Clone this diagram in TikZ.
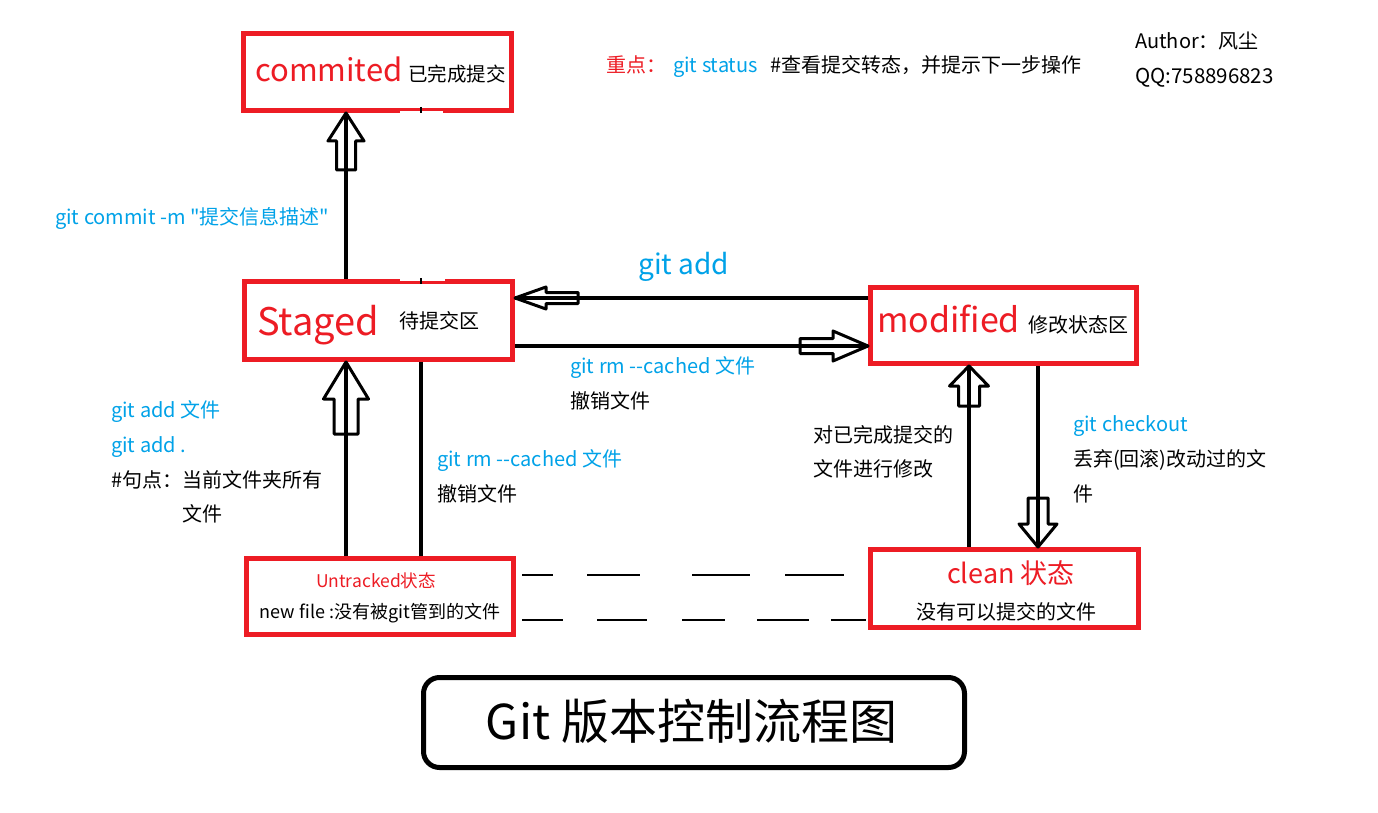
\documentclass[tikz,border=0pt]{standalone}
\usepackage{fontspec}
\setmainfont{Noto Sans CJK SC}
\newfontfamily\rawfont{Noto Sans CJK SC}
\definecolor{pred}{RGB}{237,28,36}
\definecolor{pblue}{RGB}{0,162,232}
\newcommand\fsz[1]{\fontsize{#1pt}{#1pt}\selectfont}
\tikzset{
  box/.style={draw=pred, line width=5pt, inner sep=0pt},
  conn/.style={draw=black, line width=3.2pt},
  arr/.style={draw=black, line width=3pt, line join=round},
  dashln/.style={draw=black, line width=2pt},
  tx/.style={inner sep=0pt, anchor=base west, font=\fsz{20}},
  txc/.style={inner sep=0pt, anchor=base},
  pics/barrow/.style n args={4}{code={
    \draw[arr] (0,0) -- (-#1,#2) -- (-#3,#2) -- (-#3,#2+#4) -- (#3,#2+#4) -- (#3,#2) -- (#1,#2) -- cycle;}}
}
\begin{document}
\begin{tikzpicture}[x=1pt,y=-1pt]
\fill[white] (0,0) rectangle (1378,813);
\useasboundingbox (0,0) rectangle (1378,813);

% boxes
\node[box, minimum width=268pt, minimum height=77pt] (cmt) at (377.5,72) {};
\node[box, minimum width=268pt, minimum height=78pt] (stg) at (378.5,320.5) {};
\node[box, minimum width=266pt, minimum height=76pt] (mod) at (1003.5,325.5) {};
\node[box, minimum width=267pt, minimum height=76pt] (unt) at (380,596.5) {};
\node[box, minimum width=268pt, minimum height=78pt] (cln) at (1004.5,588.5) {};
\node[draw=black, line width=5pt, rounded corners=16pt, inner sep=0pt,
      minimum width=541pt, minimum height=90pt] (ttl) at (694,722.5) {};

% small erasure marks
\fill[white] (400,110.8) rectangle (443,113.6);
\fill[white] (400,278.4) rectangle (445,281.2);
\draw[black, line width=2.5pt] (421,107) -- (421,113);
\draw[black, line width=2.5pt] (421,278) -- (421,284);

% connector positions
\coordinate (xa) at (346,0);
\coordinate (xb) at (421,0);
\coordinate (xc) at (969,0);
\coordinate (xd) at (1038,0);
\coordinate (ya) at (0,298);
\coordinate (yb) at (0,346);

\draw[conn] (stg.north -| xa) -- (cmt.south -| xa);
\pic at (cmt.south -| xa) {barrow={18}{28}{9.5}{29}};
\draw[conn] (unt.north -| xa) -- (stg.south -| xa);
\pic at (stg.south -| xa) {barrow={22.5}{37}{12}{35}};
\draw[conn] (unt.north -| xb) -- (stg.south -| xb);
\draw[conn] (cln.north -| xc) -- (mod.south -| xc);
\pic at (mod.south -| xc) {barrow={19.5}{20}{10.5}{20}};
\draw[conn] (mod.south -| xd) -- (cln.north -| xd);
\pic[rotate=180] at (cln.north -| xd) {barrow={19}{23}{10}{26}};
\draw[conn] (mod.west |- ya) -- (stg.east |- ya);
\pic[rotate=90] at (stg.east |- ya) {barrow={11}{31}{5.5}{32}};
\draw[conn] (stg.east |- yb) -- (mod.west |- yb);
\pic[rotate=-90] at (mod.west |- yb) {barrow={15}{35}{7.5}{33}};

% dashed rows
\draw[dashln] (522,575) -- (553,575);
\draw[dashln] (587,575) -- (640,575);
\draw[dashln] (692,575) -- (750,575);
\draw[dashln] (785,575) -- (844,575);
\draw[dashln] (522,620) -- (563,620);
\draw[dashln] (597,620) -- (647,620);
\draw[dashln] (682,620) -- (725,620);
\draw[dashln] (757,620) -- (809,620);
\draw[dashln] (831,620) -- (866,620);

% box texts
\node[tx, font=\fsz{31}, text=pred] (tcmt) at (255,82) {commited};
\node[tx, font=\fsz{19.5}] (tcmt2) at (408,82) {已完成提交};
\node[tx, font=\fsz{38}, text=pred] (tstg) at (257,335) {Staged};
\node[tx] (tstg2) at (399,328) {待提交区};
\node[tx, font=\fsz{34}, text=pred] (tmod) at (877,332) {modified};
\node[tx] (tmod2) at (1028,332) {修改状态区};
\node[txc, font=\fsz{17.5}, text=pred] (tunt) at (376,587) {Untracked状态};
\node[txc, font=\fsz{18}] (tunt2) at (380,618.5) {new file :没有被git管到的文件};
\node[txc, font=\fsz{27}, text=pred] (tcln) at (1011,583) {clean 状态};
\node[txc, font=\fsz{20}] (tcln2) at (1006,619) {没有可以提交的文件};
\node[txc, font=\fsz{48}] (tttl) at (691.5,739.5) {Git 版本控制流程图};

% top notes
\node[tx, text=pred] (kp1) at (606,73) {重点：};
\node[tx, text=pblue] (kp2) at (673,73) {git status};
\node[tx] (kp3) at (770,73) {\#查看提交转态，并提示下一步操作};
\node[tx] (au1) at (1135,49) {Author：风尘};
\node[tx, font=\fsz{20.5}] (au2) at (1135,84) {QQ:758896823};

% connector labels
\node[tx, text=pblue] (lcm) at (55,224) {\rawfont git commit -m "提交信息描述"};
\node[tx, font=\fsz{28}, text=pblue] (lga) at (638,274) {git add};
\node[tx, text=pblue] (lrm1) at (570,373) {\rawfont git rm --cached 文件};
\node[tx] (lrm1b) at (570,408) {撤销文件};
\node[tx, text=pblue] (lad1) at (111,417) {git add 文件};
\node[tx, text=pblue] (lad2) at (111,452) {git add .};
\node[tx] (lad3) at (111,487) {\#句点：当前文件夹所有};
\node[tx] (lad4) at (182,521) {文件};
\node[tx, text=pblue] (lrm2) at (437,466) {\rawfont git rm --cached 文件};
\node[tx] (lrm2b) at (437,501) {撤销文件};
\node[tx] (lmd1) at (813,442) {对已完成提交的};
\node[tx] (lmd2) at (813,476) {文件进行修改};
\node[tx, text=pblue] (lco1) at (1073,431) {git checkout};
\node[tx] (lco2) at (1073,466) {丢弃(回滚)改动过的文};
\node[tx] (lco3) at (1073,501) {件};
\end{tikzpicture}
\end{document}
